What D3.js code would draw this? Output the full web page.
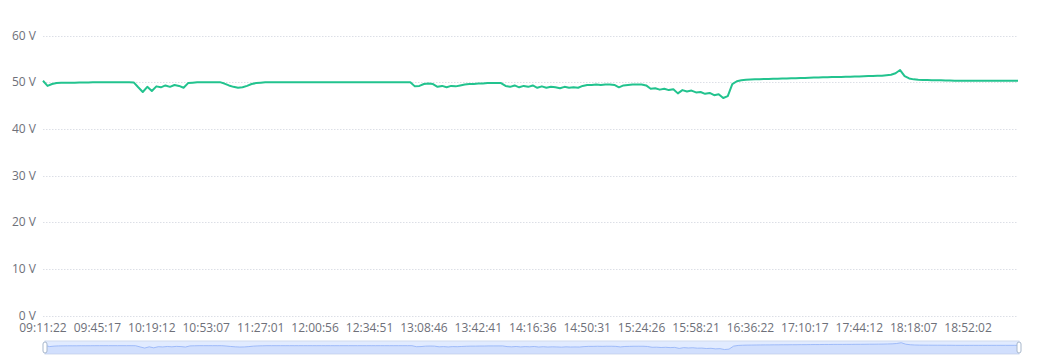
<!DOCTYPE html>
<html>
<head>
<meta charset="utf-8">
<script src="https://cdn.jsdelivr.net/npm/d3@7"></script>
<style>
  body { margin: 0; background: #fff; }
  svg { display: block; font-family: "Open Sans", sans-serif; }
  .tick-label { font-size: 12px; fill: #6e7079; }
</style>
</head>
<body>
<svg id="chart"></svg>
<script>
// x axis labels, one every 12 samples
var timeLabels = [
  '09:11:22', '09:45:17', '10:19:12', '10:53:07', '11:27:01', '12:00:56',
  '12:34:51', '13:08:46', '13:42:41', '14:16:36', '14:50:31', '15:24:26',
  '15:58:21', '16:36:22', '17:10:17', '17:44:12', '18:18:07', '18:52:02'
];
var labelStep = 12;

var yTicks = [0, 10, 20, 30, 40, 50, 60];

// voltage samples
var voltage = [
  50.3, 49.2, 49.6, 49.8,
  49.85, 49.9, 49.9, 49.9, 49.95, 49.95, 49.95, 50.0, 50.0, 50.0, 50.0, 50.0, 50.0, 50.0, 50.0, 50.0, 49.95,
  48.9, 47.9, 49.0, 48.1, 49.1, 48.9, 49.3, 49.0, 49.4, 49.2, 48.8,
  49.8, 49.9, 50.0, 50.0, 50.0, 50.0, 50.0, 50.0,
  49.7, 49.3, 49.0, 48.8, 48.9, 49.2, 49.6, 49.8, 49.9,
  50.0, 50.0, 50.0, 50.0, 50.0, 50.0, 50.0, 50.0, 50.0, 50.0, 50.0,
  50.0, 50.0, 50.0, 50.0, 50.0, 50.0, 50.0, 50.0, 50.0, 50.0, 50.0,
  50.0, 50.0, 50.0, 50.0, 50.0, 50.0, 50.0, 50.0, 50.0, 50.0, 50.0,
  49.1, 49.2, 49.6, 49.7, 49.6, 49.0, 49.2, 48.9, 49.2, 49.1,
  49.3, 49.5, 49.6, 49.6, 49.7, 49.7, 49.8, 49.8, 49.8, 49.8,
  49.2, 49.0, 49.3, 48.9, 49.2, 49.0, 49.3, 48.8, 49.1, 48.8, 49.0, 48.9, 48.7, 49.0, 48.8, 48.9, 48.8,
  49.2, 49.4, 49.4, 49.5, 49.4, 49.5, 49.5, 49.4, 48.9, 49.3, 49.4, 49.5, 49.5, 49.5, 49.3,
  48.6, 48.7, 48.4, 48.6, 48.3, 48.5, 47.6, 48.3, 48.0, 48.2, 47.8, 47.9, 47.5, 47.7, 47.2, 47.4, 46.6, 47.0,
  49.6, 50.2, 50.4, 50.5, 50.55, 50.6, 50.65, 50.7,
  50.7, 50.75, 50.75, 50.8, 50.8, 50.85, 50.85, 50.9, 50.9, 50.95, 51.0,
  51.0, 51.05, 51.05, 51.1, 51.1, 51.1, 51.15, 51.15, 51.2, 51.2, 51.25, 51.3, 51.3, 51.35, 51.4, 51.5, 51.6, 51.9,
  52.6, 51.3, 50.8, 50.6, 50.5, 50.45, 50.45, 50.4, 50.4, 50.4, 50.35, 50.35,
  50.3, 50.3, 50.3, 50.3, 50.3, 50.3, 50.3, 50.3, 50.3, 50.3, 50.3, 50.3, 50.3, 50.3, 50.3
];

var width = 1050,
  height = 359;

var margin = { top: 35.5, right: 32, bottom: 43.5, left: 43 };

var svg = d3.select('#chart')
  .attr('width', width)
  .attr('height', height);

var x = d3.scaleLinear()
  .domain([0, voltage.length - 1])
  .range([margin.left, width - margin.right]);

var y = d3.scaleLinear()
  .domain([0, 60])
  .range([height - margin.bottom, margin.top]);

// grid lines
svg.append('g')
  .attr('class', 'grid')
  .selectAll('line')
  .data(yTicks)
  .enter().append('line')
  .attr('x1', x.range()[0])
  .attr('x2', x.range()[1])
  .attr('y1', function(d) { return Math.round(y(d)) + 0.5; })
  .attr('y2', function(d) { return Math.round(y(d)) + 0.5; })
  .attr('stroke', '#dcdfe6')
  .attr('stroke-width', 1)
  .attr('stroke-dasharray', '1.5,1.5');

// y axis labels
svg.append('g')
  .selectAll('text')
  .data(yTicks)
  .enter().append('text')
  .attr('class', 'tick-label')
  .attr('x', margin.left - 7)
  .attr('y', function(d) { return y(d); })
  .attr('dy', '0.35em')
  .attr('text-anchor', 'end')
  .text(function(d) { return d + ' V'; });

// x axis labels
svg.append('g')
  .selectAll('text')
  .data(timeLabels)
  .enter().append('text')
  .attr('class', 'tick-label')
  .attr('x', function(d, i) { return x(i * labelStep); })
  .attr('y', height - margin.bottom + 16.5)
  .attr('text-anchor', 'middle')
  .text(function(d) { return d; });

var line = d3.line()
  .x(function(d, i) { return x(i); })
  .y(function(d) { return y(d); });

svg.append('path')
  .datum(voltage)
  .attr('fill', 'none')
  .attr('stroke', '#22c38e')
  .attr('stroke-width', 2)
  .attr('stroke-linejoin', 'round')
  .attr('d', line);

// data zoom slider
var slider = { x0: 45, x1: 1019, y0: 341, y1: 354 };

var sx = d3.scaleLinear()
  .domain([0, voltage.length - 1])
  .range([slider.x0, slider.x1]);

var sy = d3.scaleLinear()
  .domain([42.7, 54.1])
  .range([slider.y1, slider.y0]);

var zoomG = svg.append('g').attr('class', 'slider');

zoomG.append('rect')
  .attr('x', slider.x0)
  .attr('y', slider.y0)
  .attr('width', slider.x1 - slider.x0)
  .attr('height', slider.y1 - slider.y0)
  .attr('fill', 'rgba(135,175,255,0.25)')
  .attr('stroke', '#d2dbee');

zoomG.append('path')
  .datum(voltage)
  .attr('fill', 'rgba(143,176,247,0.2)')
  .attr('d', d3.area()
    .x(function(d, i) { return sx(i); })
    .y0(slider.y1)
    .y1(function(d) { return sy(d); }));

zoomG.append('path')
  .datum(voltage)
  .attr('fill', 'none')
  .attr('stroke', '#8fb0f7')
  .attr('stroke-width', 0.8)
  .attr('d', d3.line()
    .x(function(d, i) { return sx(i); })
    .y(function(d) { return sy(d); }));

zoomG.selectAll('.handle')
  .data([slider.x0, slider.x1])
  .enter().append('rect')
  .attr('class', 'handle')
  .attr('x', function(d) { return d - 2; })
  .attr('y', slider.y0 + 1)
  .attr('width', 4)
  .attr('height', slider.y1 - slider.y0 - 2)
  .attr('rx', 2)
  .attr('fill', '#fff')
  .attr('stroke', '#a7b7cc')
  .attr('stroke-width', 1);
</script>
</body>
</html>
